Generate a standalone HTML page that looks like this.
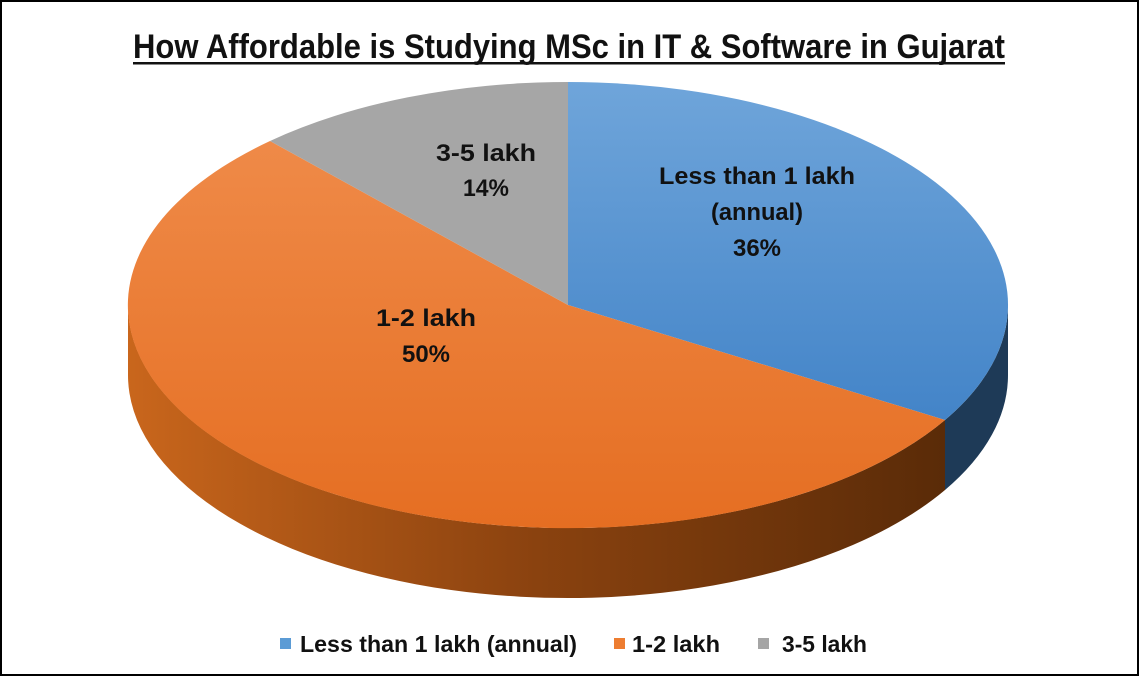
<!DOCTYPE html>
<html><head><meta charset="utf-8"><style>
html,body{margin:0;padding:0;background:#fff;}
svg{display:block;}
text{font-family:"Liberation Sans",Arial,sans-serif;font-weight:bold;fill:#111;}
</style></head><body>
<svg width="1139" height="676" viewBox="0 0 1139 676" xmlns="http://www.w3.org/2000/svg">
<defs>
<linearGradient id="os" x1="0" y1="0" x2="1" y2="0">
<stop offset="0" stop-color="#c9661c"/><stop offset="0.5" stop-color="#8a420f"/><stop offset="1" stop-color="#5a2b08"/>
</linearGradient>
<linearGradient id="bt" x1="0" y1="0" x2="0" y2="1">
<stop offset="0" stop-color="#6fa5da"/><stop offset="1" stop-color="#4384c8"/>
</linearGradient>
<linearGradient id="ot" x1="0" y1="0" x2="0" y2="1">
<stop offset="0" stop-color="#ef8a48"/><stop offset="1" stop-color="#e56e22"/>
</linearGradient>
</defs>
<rect x="1" y="1" width="1137" height="674" fill="#fff" stroke="#000" stroke-width="2"/>
<text x="569" y="58" text-anchor="middle" font-size="34" textLength="872" lengthAdjust="spacingAndGlyphs">How Affordable is Studying MSc in IT &amp; Software in Gujarat</text>
<rect x="133" y="62" width="872" height="2.5" fill="#111"/>
<path d="M128,305 L128,375 A440,223 0 0 0 945,490 L945,420 A440,223 0 0 1 128,305 Z" fill="url(#os)"/>
<path d="M945,420 A440,223 0 0 0 1008,305 L1008,375 A440,223 0 0 1 945,490 Z" fill="#1e3a57"/>
<path d="M568,305 L568,82 A440,223 0 0 1 945,420 Z" fill="url(#bt)"/>
<path d="M568,305 L945,420 A440,223 0 1 1 270,141 Z" fill="url(#ot)"/>
<path d="M568,305 L270,141 A440,223 0 0 1 568,82 Z" fill="#a6a6a6"/>
<g font-size="24" text-anchor="middle">
<text x="486" y="161" textLength="100" lengthAdjust="spacingAndGlyphs">3-5 lakh</text>
<text x="486" y="196" textLength="46" lengthAdjust="spacingAndGlyphs">14%</text>
<text x="757" y="184" textLength="196" lengthAdjust="spacingAndGlyphs">Less than 1 lakh</text>
<text x="757" y="220" textLength="92" lengthAdjust="spacingAndGlyphs">(annual)</text>
<text x="757" y="256" textLength="48" lengthAdjust="spacingAndGlyphs">36%</text>
<text x="426" y="326" textLength="100" lengthAdjust="spacingAndGlyphs">1-2 lakh</text>
<text x="426" y="362" textLength="48" lengthAdjust="spacingAndGlyphs">50%</text>
</g>
<rect x="280" y="638" width="11" height="11" fill="#5b9bd5"/>
<text x="300" y="652" font-size="23" textLength="277" lengthAdjust="spacingAndGlyphs">Less than 1 lakh (annual)</text>
<rect x="614" y="638" width="11" height="11" fill="#ed7d31"/>
<text x="632" y="652" font-size="23" textLength="88" lengthAdjust="spacingAndGlyphs">1-2 lakh</text>
<rect x="758" y="638" width="11" height="11" fill="#a5a5a5"/>
<text x="782" y="652" font-size="23" textLength="85" lengthAdjust="spacingAndGlyphs">3-5 lakh</text>
</svg>
</body></html>
